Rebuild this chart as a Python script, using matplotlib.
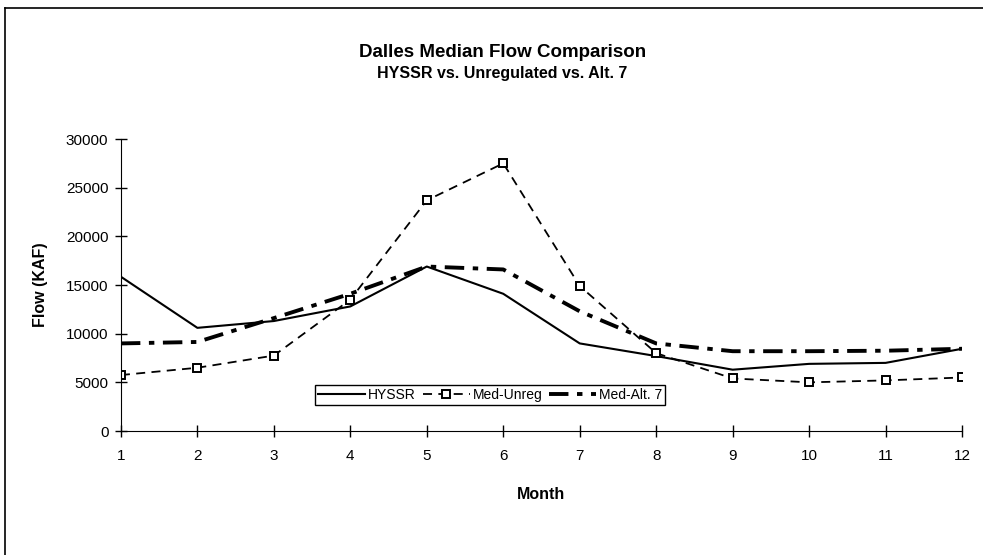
import matplotlib.pyplot as plt
from matplotlib.lines import Line2D

plt.rcParams['font.family'] = ['Liberation Sans', 'DejaVu Sans']

months = [1, 2, 3, 4, 5, 6, 7, 8, 9, 10, 11, 12]
hyssr = [15850, 10600, 11300, 12800, 16900, 14100, 9000, 7700, 6300, 6900, 7000, 8450]
med_unreg = [5750, 6500, 7750, 13500, 23700, 27500, 14900, 8000, 5400, 5000, 5200, 5500]
med_alt7 = [9000, 9150, 11600, 14100, 16900, 16600, 12300, 9000, 8200, 8200, 8250, 8450]

fig = plt.figure(figsize=(9.83, 5.55), dpi=100)
ax = fig.add_axes([0.123, 0.2234, 0.8557, 0.5261])

# page frame (only left and top edges visible in the scan)
fig.add_artist(Line2D([0.005, 0.005], [0.0, 0.985], color='black', lw=1.2, transform=fig.transFigure))
fig.add_artist(Line2D([0.005, 1.0], [0.985, 0.985], color='black', lw=1.2, transform=fig.transFigure))

ax.plot(months, hyssr, '-', color='black', lw=1.5, label='HYSSR')
ax.plot(months, med_unreg, color='black', lw=1.3, dashes=(5, 3.5),
        marker='s', markersize=6, markerfacecolor='white', markeredgecolor='black',
        markeredgewidth=1.4, label='Med-Unreg')
ax.plot(months, med_alt7, color='black', lw=2.8, dashes=(5, 2.2, 1.4, 2.2), label='Med-Alt. 7')

ax.set_xlim(1, 12)
ax.set_ylim(0, 30000)
ax.set_xticks(months)
ax.set_yticks(range(0, 30001, 5000))
ax.spines['top'].set_visible(False)
ax.spines['right'].set_visible(False)
ax.tick_params(direction='inout', length=8, width=1, labelsize=11, pad=5)
ax.tick_params(axis='x', pad=9)

ax.set_xlabel('Month', fontsize=11.5, fontweight='bold', labelpad=17)
ax.set_ylabel('Flow (KAF)', fontsize=11.5, fontweight='bold', labelpad=13)

fig.text(0.511, 0.905, 'Dalles Median Flow Comparison', ha='center', va='center',
         fontsize=13.5, fontweight='bold')
fig.text(0.511, 0.868, 'HYSSR vs. Unregulated vs. Alt. 7', ha='center', va='center',
         fontsize=11.5, fontweight='bold')

leg = ax.legend(loc='center', bbox_to_anchor=(0.439, 0.124), ncol=3, fontsize=10,
                frameon=True, fancybox=False, framealpha=1, edgecolor='black',
                handlelength=3.4, handletextpad=0.2, columnspacing=0.5,
                borderpad=0.2, borderaxespad=0)
leg.get_frame().set_linewidth(1.0)

fig.savefig('out.png', dpi=100)
